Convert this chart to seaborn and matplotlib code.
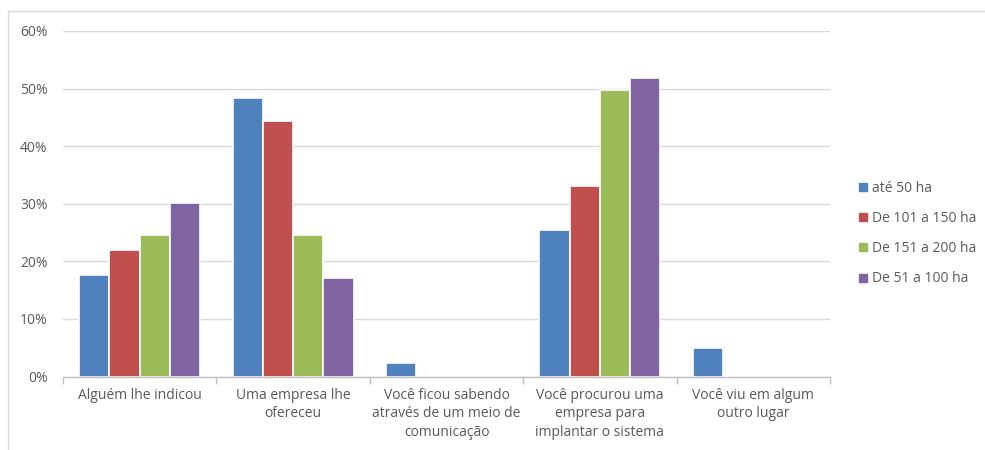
import matplotlib
matplotlib.use("Agg")
import matplotlib.pyplot as plt
from matplotlib.lines import Line2D
from matplotlib.patches import Rectangle
from matplotlib.ticker import FuncFormatter, FixedLocator
import seaborn as sns
import pandas as pd

categories = [
    "Alguém lhe indicou",
    "Uma empresa lhe\nofereceu",
    "Você ficou sabendo\natravés de um meio de\ncomunicação",
    "Você procurou uma\nempresa para\nimplantar o sistema",
    "Você viu em algum\noutro lugar",
]
series = ["até 50 ha", "De 101 a 150 ha", "De 151 a 200 ha", "De 51 a 100 ha"]
ate_50 = [17.7, 48.4, 2.3, 25.5, 4.9]
de_101_150 = [22.0, 44.3, 0.0, 33.1, 0.0]
de_151_200 = [24.6, 24.6, 0.0, 49.8, 0.0]
de_51_100 = [30.2, 17.1, 0.0, 51.9, 0.0]
colors = ["#4F81BD", "#C0504D", "#9BBB59", "#8064A2"]

rows = []
for name, vals in zip(series, [ate_50, de_101_150, de_151_200, de_51_100]):
    for cat, v in zip(categories, vals):
        rows.append({"categoria": cat, "faixa": name, "valor": v})
df = pd.DataFrame(rows)

sns.set_theme(style="white")
plt.rcParams["font.family"] = ["Open Sans", "DejaVu Sans"]
text_color = "#595959"

fig = plt.figure(figsize=(9.85, 4.5), dpi=100)
ax = fig.add_axes([63 / 985, 1 - 376.5 / 450, (830 - 63) / 985, (376.5 - 31) / 450])

sns.barplot(data=df, x="categoria", y="valor", hue="faixa", order=categories,
            hue_order=series, palette=colors, width=0.79, saturation=1,
            edgecolor="white", linewidth=1.2, ax=ax, legend=False, zorder=3)

ax.set_xlim(-0.5, len(categories) - 0.5)
ax.set_ylim(0, 60)
ax.set_yticks(range(0, 61, 10))
ax.yaxis.set_major_formatter(FuncFormatter(lambda v, p: f"{int(v)}%"))
ax.grid(axis="y", color="#d9d9d9", linewidth=1, zorder=0)
ax.set_axisbelow(True)
for s in ["top", "right", "left"]:
    ax.spines[s].set_visible(False)
ax.spines["bottom"].set_color("#bfbfbf")
ax.spines["bottom"].set_linewidth(1)
ax.spines["bottom"].set_zorder(5)
ax.set_xlabel("")
ax.set_ylabel("")

ax.tick_params(axis="y", length=0, pad=11, labelsize=10, labelcolor=text_color)
ax.tick_params(axis="x", which="major", length=0, pad=8, labelsize=10, labelcolor=text_color)
ax.xaxis.set_minor_locator(FixedLocator([i - 0.5 for i in range(len(categories) + 1)]))
ax.tick_params(axis="x", which="minor", length=5, color="#bfbfbf", width=1, bottom=True)
for lbl in ax.get_xticklabels():
    lbl.set_linespacing(1.35)

handles = [Line2D([0], [0], marker="s", linestyle="", markersize=6,
                  markerfacecolor=c, markeredgecolor=c) for c in colors]
leg = fig.legend(handles, series, loc="upper left", bbox_to_anchor=(850 / 985, 1 - 175 / 450),
                 frameon=False, fontsize=10, labelspacing=1.1, handletextpad=0.2,
                 handlelength=1.0, borderaxespad=0)
for t in leg.get_texts():
    t.set_color(text_color)

fig.patches.append(Rectangle((8 / 985, -0.1), 1.1, 1 - 11 / 450 + 0.1,
                             transform=fig.transFigure, fill=False,
                             edgecolor="#d9d9d9", linewidth=1))

fig.savefig("out.png", dpi=100, facecolor="white")
